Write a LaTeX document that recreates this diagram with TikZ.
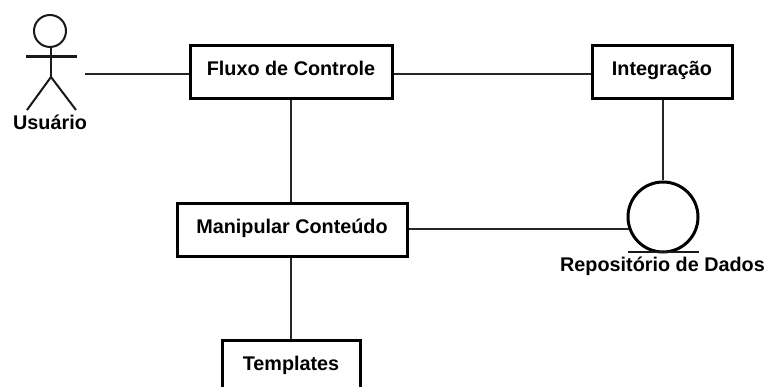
\documentclass[tikz,border=0pt]{standalone}
\usepackage{fontspec}
\setmainfont{Liberation Sans}
\begin{document}
\begin{tikzpicture}[x=1pt,y=-1pt,
  lbl/.style={font=\fontsize{19.8}{20}\selectfont\bfseries,inner sep=0pt},
  box/.style={draw=black,line width=3pt,fill=white,inner xsep=0pt,inner ysep=0pt,text height=29.5pt,text depth=23.5pt,font=\fontsize{19.8}{20}\selectfont\bfseries},
  conn/.style={draw=black!85,line width=2pt},
  actorline/.style={draw=black!90,line width=2pt}]
\useasboundingbox (0,0) rectangle (766,387);
\fill[white] (0,0) rectangle (766,387);
% boxes
\node[box,minimum width=202pt] (flux) at (291,72.5) {Fluxo de Controle};
\node[box,minimum width=140pt] (integ) at (662,72.5) {Integração};
\node[box,minimum width=230pt] (manip) at (292,230.5) {Manipular Conteúdo};
\node[box,minimum width=138pt] (templ) at (291,367.5) {Templates};
% repository
\node[circle,draw=black,line width=3pt,minimum size=70pt,inner sep=0pt,fill=white] (repo) at (663,217) {};
\coordinate (baseL) at (628,252);
\coordinate (baseR) at (699,252);
\draw[actorline] (baseL) -- (baseR);
\node[lbl,anchor=base] (repolbl) at (662.5,272) {Repositório de Dados};
% actor
\node[circle,actorline,minimum size=32pt,inner sep=0pt] (head) at (50,31) {};
\coordinate (hip) at (51,77);
\coordinate (armL) at (26,57);
\coordinate (armR) at (77,57);
\coordinate (legL) at (27,110);
\coordinate (legR) at (76,110);
\coordinate (actorhand) at (85,74);
\draw[actorline] (head.south -| hip) -- (hip);
\draw[actorline,line width=3pt] (armL) -- (armR);
\draw[actorline] (legL) -- (hip) -- (legR);
\node[lbl,anchor=base] (actorlbl) at (50,130) {Usuário};
% connectors
\draw[conn] (actorhand) -- (actorhand -| flux.west);
\draw[conn] (flux.east) ++(0,1.5) coordinate (fe) -- (fe -| integ.west);
\draw[conn] (flux.south) -- (manip.north -| flux.south);
\draw[conn] (integ.south -| repo.north) -- (repo.north);
\draw[conn] (manip.east) ++(0,-1.5) coordinate (me) -- (me -| repo.200);
\draw[conn] (manip.south -| templ.north) -- (templ.north);
\end{tikzpicture}
\end{document}
